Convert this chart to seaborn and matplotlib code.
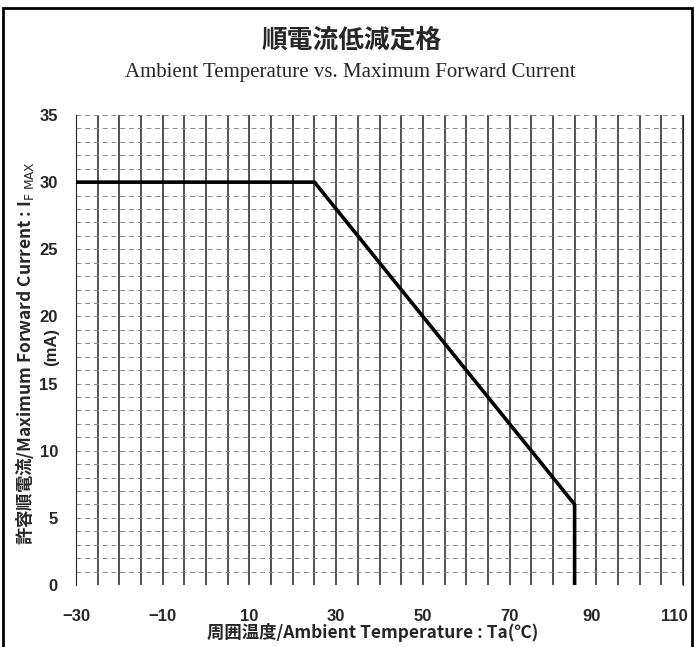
import numpy as np
import pandas as pd
import seaborn as sns
import matplotlib.pyplot as plt
import matplotlib.patches as mpatches
import matplotlib.transforms as mtrans

# derating curve
temp_c = [-30, 25, 85, 85]
current_ma = [30, 30, 6, 0]
x_ticks = [-30, -10, 10, 30, 50, 70, 90, 110]
x_tick_labels = ["\u221230", "\u221210", "10", "30", "50", "70", "90", "110"]
y_ticks = [0, 5, 10, 15, 20, 25, 30, 35]

sns.set_style("white")
plt.rcParams['font.family'] = ['Liberation Sans', 'Noto Sans CJK JP', 'DejaVu Sans']

fig = plt.figure(figsize=(6.95, 6.47), dpi=100)
ax = fig.add_axes([76 / 695, 1 - 585 / 647, (683 - 76) / 695, (585 - 115) / 647])

# graph paper grid
for x in range(-30, 111, 5):
    ax.axvline(x, color="#222222", lw=1.1, zorder=1)
for y in range(0, 36):
    ax.axhline(y, color="#888888", lw=0.7, ls=(0, (5, 4)), zorder=1)

df = pd.DataFrame({"temp": temp_c, "current": current_ma})
sns.lineplot(data=df, x="temp", y="current", sort=False, estimator=None,
             color="black", lw=2.6, ax=ax, zorder=3)

ax.set_xlim(-30, 110)
ax.set_ylim(0, 35)
ax.set_xticks(x_ticks)
ax.set_xticklabels(x_tick_labels)
ax.set_yticks(y_ticks)
ax.tick_params(length=0, labelsize=12)
ax.tick_params(axis="x", pad=17)
ax.tick_params(axis="y", pad=13)
for lbl in ax.get_xticklabels() + ax.get_yticklabels():
    lbl.set_fontweight("bold")
ax.set_xlabel("")
ax.set_ylabel("")
for s in ax.spines.values():
    s.set_color("#222222")
    s.set_linewidth(0.8)
ax.spines["top"].set_visible(False)
ax.spines["bottom"].set_visible(False)

# the right-most labels sit a little left of their lines in the scan
xlabels = ax.get_xticklabels()
for lbl, shift in ((xlabels[-2], -5), (xlabels[-1], -9)):
    lbl.set_transform(lbl.get_transform() + mtrans.ScaledTranslation(shift / 100, 0, fig.dpi_scale_trans))

# titles
fig.text(352 / 695, 1 - 40 / 647, "順電流低減定格", ha="center", va="center",
         fontsize=18.5, fontweight="bold", family=["Noto Sans CJK JP"])
fig.text(350 / 695, 1 - 73 / 647, "Ambient Temperature vs. Maximum Forward Current",
         ha="center", va="center", fontsize=15, family=["Liberation Serif"])

# axis labels
fig.text(373 / 695, 1 - 632 / 647, "周囲温度/Ambient Temperature : Ta(\u2103)",
         ha="center", va="center", fontsize=12.5, fontweight="bold",
         family=["Noto Sans CJK JP", "DejaVu Sans"])
fig.text(25 / 695, 1 - 353 / 647,
         "許容順電流/Maximum Forward Current : I$_{\\mathrm{F\\ MAX}}$",
         ha="center", va="center", rotation=90, fontsize=12.5, fontweight="bold",
         family=["Noto Sans CJK JP", "DejaVu Sans"])
fig.text(52 / 695, 1 - 347 / 647, "(mA)", ha="center", va="center", rotation=90,
         fontsize=12, fontweight="bold")

# outer frame of the scanned page
frame = mpatches.Rectangle((3 / 695, -0.05), (692 - 3) / 695, 1.05 - 8 / 647,
                           transform=fig.transFigure, fill=False, lw=2, ec="black")
fig.patches.append(frame)

fig.savefig("out.png", dpi=100)
